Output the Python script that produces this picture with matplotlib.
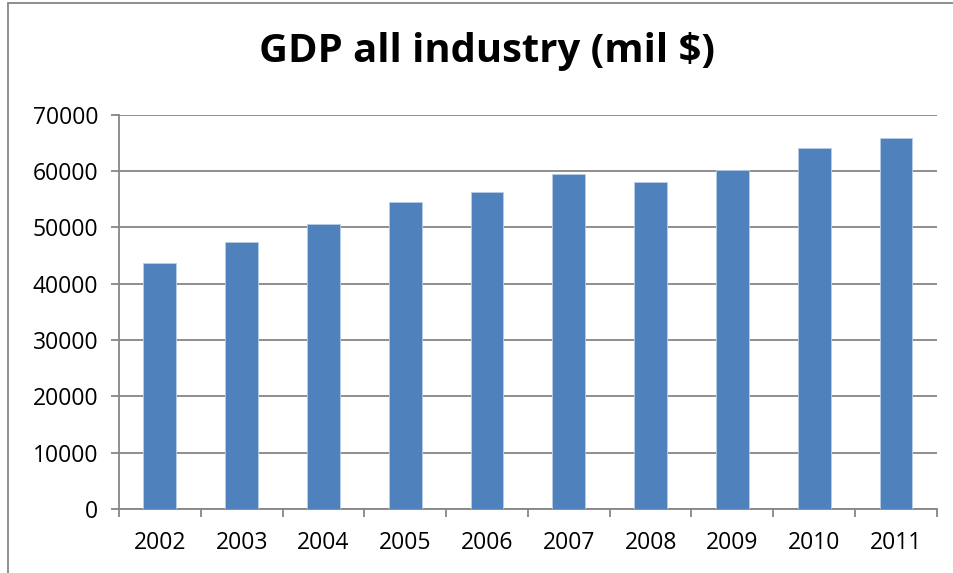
import matplotlib.pyplot as plt
from matplotlib.patches import Rectangle

# GDP, all industry, millions of dollars
years = ["2002", "2003", "2004", "2005", "2006", "2007", "2008", "2009", "2010", "2011"]
gdp = [43700, 47420, 50570, 54480, 56300, 59560, 58080, 60160, 64070, 65840]

plt.rcParams["font.family"] = ["Open Sans", "DejaVu Sans"]

fig = plt.figure(figsize=(9.54, 5.73), dpi=100)
ax = fig.add_axes([0.1247, 0.1117, 0.8573, 0.6881])

x = range(len(years))
ax.bar(x, gdp, width=0.40, color="#4f81bd", edgecolor="#b9cde5", linewidth=0.6, zorder=3)

ax.set_xlim(-0.5, len(years) - 0.5)
ax.set_ylim(0, 70000)
ax.set_yticks(range(0, 70001, 10000))
ax.set_yticklabels([str(v) for v in range(0, 70001, 10000)], fontsize=16.5)

# category labels centred under bars, ticks on the boundaries between them
ax.set_xticks([i - 0.5 for i in range(len(years) + 1)])
ax.set_xticklabels([])
ax.set_xticks(list(x), minor=True)
ax.set_xticklabels(years, minor=True, fontsize=16.5)
ax.tick_params(axis="x", which="major", length=6, width=1.3, color="#868686", direction="out")
ax.tick_params(axis="x", which="minor", length=0, pad=16)
ax.tick_params(axis="y", length=6, width=1.3, color="#868686", pad=9)

ax.grid(axis="y", color="#868686", linewidth=1.3, zorder=0)
for side in ("top", "right"):
    ax.spines[side].set_visible(False)
for side in ("left", "bottom"):
    ax.spines[side].set_color("#868686")
    ax.spines[side].set_linewidth(1.3)

fig.text(0.51, 0.91, "GDP all industry (mil $)", ha="center", va="center",
         fontsize=28.8, fontweight="bold")

# chart frame
fig.patches.append(Rectangle((8 / 954, -0.05), 1.2, 1.0 - 3 / 573 + 0.05,
                             transform=fig.transFigure, fill=False,
                             edgecolor="#868686", linewidth=1.3))

fig.savefig("out.png", dpi=100)
